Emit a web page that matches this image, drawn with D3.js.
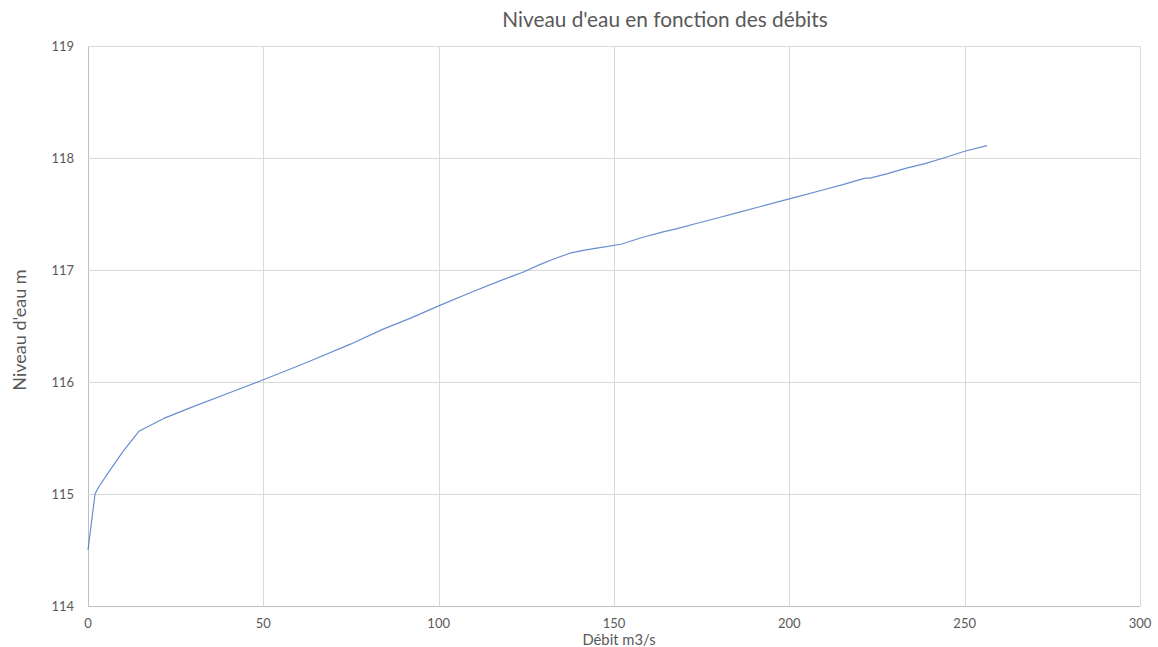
<!DOCTYPE html>
<html><head><meta charset="utf-8">
<script src="https://cdn.jsdelivr.net/npm/d3@7"></script>
<style>body{margin:0;background:#fff;}svg{display:block;font-family:Lato,"Open Sans",sans-serif;}</style>
</head><body>
<svg id="c" width="1158" height="647"></svg>
<script>
const title = "Niveau d'eau en fonction des débits";
const xTitle = "Débit m3/s";
const yTitle = "Niveau d'eau m";
const xTicks = [0, 50, 100, 150, 200, 250, 300];
const yTicks = [114, 115, 116, 117, 118, 119];
const debit = [0, 2, 3, 6, 10, 14.5, 22, 30, 40, 50, 62, 75, 84, 92, 100, 110, 118, 124, 129, 133, 137.4, 142, 146, 152, 158, 164, 168, 174, 179, 185, 191, 197, 203, 209, 215, 221.6, 223, 228, 233.4, 238.7, 244, 250, 256.4];
const niveau = [114.5, 115.0, 115.06, 115.2, 115.38, 115.56, 115.68, 115.78, 115.9, 116.02, 116.17, 116.34, 116.47, 116.57, 116.68, 116.81, 116.91, 116.98, 117.05, 117.1, 117.15, 117.18, 117.2, 117.23, 117.29, 117.34, 117.37, 117.42, 117.46, 117.51, 117.56, 117.61, 117.66, 117.71, 117.76, 117.82, 117.82, 117.86, 117.91, 117.95, 118.0, 118.06, 118.11];

const svg = d3.select("#c");
const m = {l: 88, r: 1140, t: 46, b: 606};
const x = d3.scaleLinear().domain([0, 300]).range([m.l, m.r]);
const y = d3.scaleLinear().domain([114, 119]).range([m.b, m.t]);

// gridlines
svg.append("g").selectAll("line.v").data(xTicks).join("line")
  .attr("x1", d => Math.round(x(d)) + 0.5).attr("x2", d => Math.round(x(d)) + 0.5)
  .attr("y1", m.t).attr("y2", m.b)
  .attr("stroke", d => d === 0 ? "#bfbfbf" : "#d9d9d9").attr("stroke-width", 1);
svg.append("g").selectAll("line.h").data(yTicks).join("line")
  .attr("x1", m.l).attr("x2", m.r)
  .attr("y1", d => Math.round(y(d)) + 0.5).attr("y2", d => Math.round(y(d)) + 0.5)
  .attr("stroke", d => d === 114 ? "#bfbfbf" : "#d9d9d9").attr("stroke-width", 1);

// tick labels
svg.append("g").selectAll("text").data(xTicks).join("text")
  .attr("x", d => x(d)).attr("y", 628)
  .attr("text-anchor", "middle").attr("font-size", 13).attr("fill", "#595959")
  .text(d => d);
svg.append("g").selectAll("text").data(yTicks).join("text")
  .attr("x", 74).attr("y", d => y(d) + 4.5)
  .attr("text-anchor", "end").attr("font-size", 13).attr("fill", "#595959")
  .text(d => d);

// line
const pts = debit.map((d, i) => [d, niveau[i]]);
svg.append("path").datum(pts)
  .attr("fill", "none").attr("stroke", "#4472C4").attr("stroke-width", 1.2)
  .attr("stroke-linejoin", "round").attr("opacity", 0.8)
  .attr("d", d3.line().x(d => x(d[0])).y(d => y(d[1])));

// titles
svg.append("text").attr("x", 665).attr("y", 27).attr("text-anchor", "middle")
  .attr("font-size", 20.8).attr("fill", "#595959").text(title);
svg.append("text").attr("x", 619).attr("y", 645).attr("text-anchor", "middle")
  .attr("font-size", 14.8).attr("fill", "#595959").text(xTitle);
svg.append("text").attr("transform", "translate(26,330) rotate(-90)")
  .attr("text-anchor", "middle").attr("font-size", 18).attr("fill", "#595959").text(yTitle);
</script>
</body></html>
